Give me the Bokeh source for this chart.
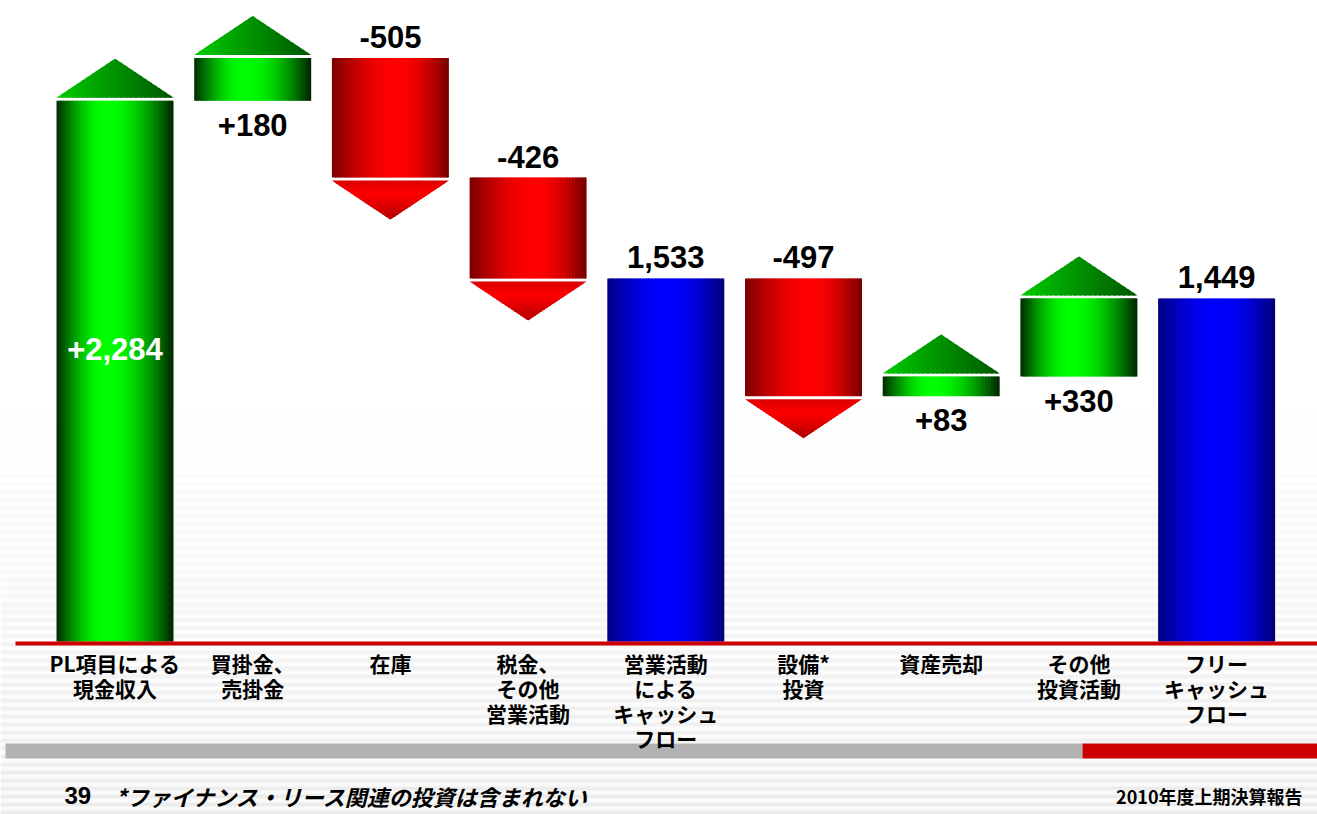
import numpy as np
from bokeh.plotting import figure
from bokeh.models import Range1d, ColumnDataSource
from bokeh.core.properties import value
from bokeh.embed import file_html
from bokeh.resources import INLINE

# ---------------- data ----------------
categories = [
    "PL項目による\n現金収入",
    "買掛金、\n売掛金",
    "在庫",
    "税金、\nその他\n営業活動",
    "営業活動\nによる\nキャッシュ\nフロー",
    "設備*\n投資",
    "資産売却",
    "その他\n投資活動",
    "フリー\nキャッシュ\nフロー",
]
values = [2284, 180, -505, -426, 1533, -497, 83, 330, 1449]
kinds = ["delta", "delta", "delta", "delta", "total", "delta", "delta", "delta", "total"]
value_labels = ["+2,284", "+180", "-505", "-426", "1,533", "-497", "+83", "+330", "1,449"]
page_no = "39"
footnote = "*ファイナンス・リース関連の投資は含まれない"
report_title = "2010年度上期決算報告"

# ---------------- geometry / scales ----------------
W, H = 1317, 814
STEP = 137.7      # px per category
FIRST = 114.5     # px centre of first category
S = 0.2368        # px per unit (億円)
BASE = 641        # px of zero line from top

x0 = -FIRST / STEP
x1 = x0 + W / STEP
y1 = BASE / S
y0 = -(H - BASE) / S


def px2x(px):
    return x0 + px / STEP


def px2y(py):
    return y1 - py / S


def dy(px):
    return px / S


BAR_W = 117 / STEP
TRI_H = dy(39)
GAP = dy(3)

p = figure(width=W, height=H, x_range=Range1d(x0, x1), y_range=Range1d(y0, y1),
           output_backend="svg", toolbar_location=None, min_border=0,
           x_axis_location=None, y_axis_location=None)
p.grid.visible = False
p.outline_line_color = None
p.background_fill_color = "white"
p.border_fill_color = "white"

# ---------------- background pinstripes ----------------
st = dict(left=[], right=[], top=[], bottom=[], color=[])
for py in range(390, H + 8, 8):
    f = min(1.0, (py - 390) / (H - 390))
    g1 = int(round(255 - 5 * f))
    g2 = int(round(255 - 20 * f))
    for a, b, g in ((py, py + 4, g1), (py + 4, py + 8, g2)):
        st["left"].append(x0)
        st["right"].append(x1)
        st["top"].append(px2y(a))
        st["bottom"].append(px2y(b) - dy(0.3))
        st["color"].append("#%02x%02x%02x" % (g, g, g))
p.quad(left="left", right="right", top="top", bottom="bottom", fill_color="color",
       line_color=None, source=ColumnDataSource(st))


# ---------------- colour helpers ----------------
def ramp(t, lo_l, peak, lo_r):
    if t <= peak:
        u = t / peak
        return lo_l + (1 - lo_l) * np.sin(u * np.pi / 2)
    u = (t - peak) / (1 - peak)
    return lo_r + (1 - lo_r) * np.cos(u * np.pi / 2)


def col(kind, inten):
    v = int(round(max(0, min(1, inten)) * 255))
    if kind == "g":
        return "#00%02x00" % v
    if kind == "r":
        return "#%02x0000" % v
    return "#0000%02x" % v


PROFILE = {"g": (0.17, 0.43, 0.14), "r": (0.48, 0.56, 0.46), "b": (0.52, 0.52, 0.47)}

# ---------------- waterfall geometry ----------------
run = 0
bars = []
for v, k in zip(values, kinds):
    if k == "total":
        bot, top = 0, v
        run = v
        kind = "b"
    else:
        bot, top = min(run, run + v), max(run, run + v)
        run += v
        kind = "g" if v > 0 else "r"
    bars.append((bot, top, kind))

N = 40
strips = dict(left=[], right=[], top=[], bottom=[], color=[])
tri_xs, tri_ys, tri_col = [], [], []
for i, (bot, top, kind) in enumerate(bars):
    xl = i - BAR_W / 2
    w = BAR_W / N
    for k in range(N):
        t = (k + 0.5) / N
        l = xl + k * w
        r = l + w * (1.6 if k < N - 1 else 1.0)
        strips["left"].append(l)
        strips["right"].append(r)
        strips["top"].append(top)
        strips["bottom"].append(bot)
        strips["color"].append(col(kind, ramp(t, *PROFILE[kind])))
    xc = i
    hw = BAR_W / 2
    if kind == "g":
        yb = top + GAP
        ya = yb + TRI_H
        M = 24

        def ytop(x, yb=yb, ya=ya, xc=xc, hw=hw):
            return yb + (ya - yb) * (1 - abs(x - xc) / hw)
        for k in range(M):
            u0 = xc - hw + k * (2 * hw / M)
            u1 = min(u0 + (2 * hw / M) * (1.6 if k < M - 1 else 1.0), xc + hw)
            xs = [u0, u1, u1]
            ys = [yb, yb, ytop(u1)]
            if u0 < xc < u1:
                xs.append(xc)
                ys.append(ya)
            xs.append(u0)
            ys.append(ytop(u0))
            tri_xs.append(xs)
            tri_ys.append(ys)
            t = (k + 0.5) / M
            tri_col.append(col("g", 0.80 - 0.46 * t))
    elif kind == "r":
        yb = bot - GAP
        ya = yb - TRI_H
        M = 20
        for k in range(M):
            f0 = k / M
            f1 = min(1.0, (k + (1.6 if k < M - 1 else 1.0)) / M)
            h0 = hw * (1 - f0)
            h1 = hw * (1 - f1)
            ya0 = yb + (ya - yb) * f0
            ya1 = yb + (ya - yb) * f1
            tri_xs.append([xc - h0, xc + h0, xc + h1, xc - h1])
            tri_ys.append([ya0, ya0, ya1, ya1])
            f = (k + 0.5) / M
            if f < 0.35:
                inten = 0.86 + 0.14 * (f / 0.35)
            else:
                inten = 1.0 - 0.30 * ((f - 0.35) / 0.65)
            tri_col.append(col("r", inten))

p.quad(left="left", right="right", top="top", bottom="bottom", fill_color="color",
       line_color=None, source=ColumnDataSource(strips))
p.patches(xs="xs", ys="ys", fill_color="c", line_color=None,
          source=ColumnDataSource(dict(xs=tri_xs, ys=tri_ys, c=tri_col)))

# ---------------- zero line ----------------
p.quad(left=[px2x(15)], right=[x1], top=[0], bottom=[-dy(4)], fill_color="#cc0000", line_color=None)

# ---------------- footer band ----------------
p.quad(left=[px2x(5)], right=[px2x(1082)], top=[px2y(743)], bottom=[px2y(758)],
       fill_color="#b2b2b2", line_color=None)
p.quad(left=[px2x(1082)], right=[x1], top=[px2y(743)], bottom=[px2y(758)],
       fill_color="#cc0000", line_color=None)

# ---------------- value labels ----------------
lx, ly, lc = [], [], []
for i, ((bot, top, kind), v, k) in enumerate(zip(bars, values, kinds)):
    lx.append(i)
    if k == "delta" and v > 0 and bot == 0:
        ly.append(top * 0.54)
        lc.append("white")
    elif k == "delta" and v > 0:
        ly.append(bot - dy(24))
        lc.append("black")
    else:
        ly.append(top + dy(21))
        lc.append("black")
p.text(x=lx, y=ly, text=value_labels, text_color=lc, text_font=value("Liberation Sans"),
       text_font_style="bold", text_font_size="31px", text_align="center", text_baseline="middle")

# ---------------- category labels ----------------
p.text(x=list(range(len(categories))), y=[-dy(6)] * len(categories), text=categories,
       text_font=value("Noto Sans CJK JP"), text_font_style="bold", text_font_size="21px",
       text_align="center", text_baseline="top", text_line_height=0.836, text_color="black")

# ---------------- footer texts ----------------
p.text(x=[px2x(64)], y=[px2y(795)], text=[page_no], text_font=value("Liberation Sans"),
       text_font_style="bold", text_font_size="24px", text_align="left", text_baseline="middle",
       text_color="black")
p.text(x=[px2x(115)], y=[px2y(795)], text=[footnote], text_font=value("Noto Sans CJK JP"),
       text_font_style="bold italic", text_font_size="22px", text_align="left",
       text_baseline="middle", text_color="black")
p.text(x=[px2x(1302)], y=[px2y(795)], text=[report_title], text_font=value("Noto Sans CJK JP"),
       text_font_style="bold", text_font_size="18px", text_align="right", text_baseline="middle",
       text_color="black")

open("out.html", "w").write(file_html(p, INLINE))
